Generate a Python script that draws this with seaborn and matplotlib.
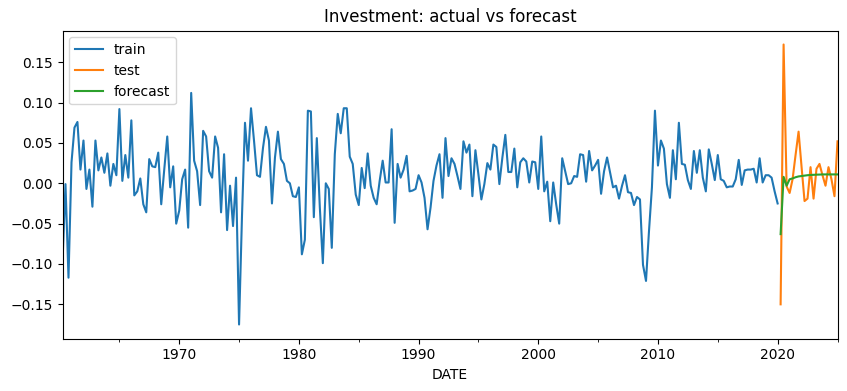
import numpy as np
import pandas as pd
import matplotlib
matplotlib.use("Agg")
import matplotlib.pyplot as plt
import matplotlib.dates as mdates
import seaborn as sns

# quarterly values (train: 1960Q2-2020Q1)
train_start = "1960-04-01"
train_vals = [
    -0.098, -0.001, -0.117, 0.026, 0.069, 0.076, 0.017, 0.053, -0.007, 0.017,
    -0.029, 0.053, 0.016, 0.032, 0.013, 0.037, -0.003, 0.024, 0.010, 0.092,
    0.003, 0.035, 0.007, 0.078, -0.015, -0.010, 0.006, -0.026, -0.036, 0.030,
    0.021, 0.020, 0.038, -0.026, 0.017, 0.058, -0.005, 0.021, -0.050, -0.034,
    0.005, 0.017, -0.055, 0.112, 0.028, 0.015, -0.027, 0.065, 0.058, 0.015,
    0.007, 0.058, 0.044, -0.036, 0.036, -0.058, -0.003, -0.053, 0.007, -0.175,
    -0.040, 0.075, 0.028, 0.093, 0.053, 0.010, 0.008, 0.044, 0.070, 0.053,
    -0.025, 0.032, 0.064, 0.030, 0.024, 0.003, 0.000, -0.016, -0.017, -0.005,
    -0.088, -0.070, 0.090, 0.089, -0.042, 0.056, -0.030, -0.099, 0.000, -0.007,
    -0.080, 0.036, 0.086, 0.062, 0.093, 0.093, 0.033, 0.024, -0.014, -0.027,
    0.019, -0.006, 0.037, -0.003, -0.018, -0.026, 0.003, 0.028, 0.001, 0.001,
    0.067, -0.049, 0.024, 0.007, 0.017, 0.034, -0.010, -0.009, -0.007, 0.010,
    0.001, -0.018, -0.057, -0.030, 0.003, 0.022, 0.036, -0.018, 0.056, 0.009,
    0.031, 0.024, 0.009, -0.007, 0.052, 0.038, 0.048, -0.016, 0.041, 0.011,
    -0.020, -0.001, 0.025, 0.017, 0.048, 0.045, -0.001, 0.032, 0.060, 0.014,
    0.014, 0.043, -0.005, 0.026, 0.031, 0.027, 0.001, 0.027, 0.026, -0.007,
    0.058, -0.010, 0.002, -0.047, 0.001, -0.026, -0.050, 0.031, 0.015, -0.001,
    0.000, 0.009, 0.008, 0.036, 0.035, 0.002, 0.040, 0.016, 0.022, 0.029,
    -0.013, 0.015, 0.032, 0.013, -0.005, -0.003, -0.019, -0.003, 0.010, -0.011,
    -0.012, -0.027, -0.017, -0.020, -0.101, -0.121, -0.060, -0.005, 0.090, 0.022,
    0.053, 0.043, -0.001, -0.018, 0.041, 0.005, 0.075, 0.024, 0.023, 0.004,
    -0.007, 0.040, 0.013, 0.041, 0.007, -0.010, 0.042, 0.024, 0.004, 0.035,
    0.005, 0.003, -0.005, -0.004, -0.004, 0.005, 0.029, -0.002, 0.016, 0.017,
    0.017, 0.018, 0.001, 0.031, 0.001, 0.010, 0.010, 0.007, -0.010, -0.025,
]

# test and forecast: 2020Q2-2025Q1
test_start = "2020-04-01"
test_vals = [
    -0.150, 0.172, -0.004, -0.012, 0.005, 0.035, 0.064, 0.020, -0.022, -0.019,
    0.020, -0.019, 0.018, 0.024, 0.010, -0.003, 0.020, 0.005, -0.016, 0.052,
]
forecast_vals = [
    -0.063, 0.008, -0.003, 0.005, 0.006, 0.0075, 0.0085, 0.009, 0.0095, 0.010,
    0.0103, 0.0105, 0.0107, 0.0108, 0.011, 0.011, 0.011, 0.011, 0.011, 0.011,
]

train = pd.DataFrame({
    "DATE": pd.date_range(train_start, periods=len(train_vals), freq="QS"),
    "value": train_vals,
})
test = pd.DataFrame({
    "DATE": pd.date_range(test_start, periods=len(test_vals), freq="QS"),
    "value": test_vals,
    "forecast": forecast_vals,
})

fig = plt.figure(figsize=(8.47, 3.91), dpi=100)
ax = fig.add_axes([62.5 / 847, 52.5 / 391, 775 / 847, 308 / 391])

sns.lineplot(data=train, x="DATE", y="value", label="train", ax=ax)
sns.lineplot(data=test, x="DATE", y="value", label="test", ax=ax)
sns.lineplot(data=test, x="DATE", y="forecast", label="forecast", ax=ax)

ax.set_xlim(train["DATE"].iloc[0], test["DATE"].iloc[-1])
ax.xaxis.set_major_locator(mdates.YearLocator(10))
ax.xaxis.set_major_formatter(mdates.DateFormatter("%Y"))
ax.xaxis.set_minor_locator(mdates.YearLocator(5))
ax.set_xlabel("DATE")
ax.set_ylabel("")
ax.set_title("Investment: actual vs forecast")
ax.legend(loc="upper left")

fig.savefig("out.png", dpi=100)
